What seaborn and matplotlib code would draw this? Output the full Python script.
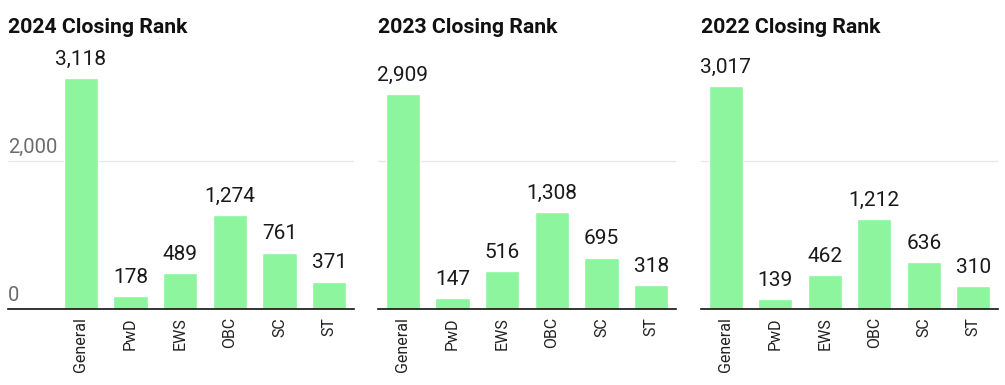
import matplotlib
matplotlib.use("Agg")
import matplotlib.pyplot as plt
import seaborn as sns
import pandas as pd

categories = ["General", "PwD", "EWS", "OBC", "SC", "ST"]
rank_2024 = [3118, 178, 489, 1274, 761, 371]
rank_2023 = [2909, 147, 516, 1308, 695, 318]
rank_2022 = [3017, 139, 462, 1212, 636, 310]
titles = ["2024 Closing Rank", "2023 Closing Rank", "2022 Closing Rank"]
y_ticks = [0, 2000]
y_tick_labels = ["0", "2,000"]

sns.set_theme(style="white")
plt.rcParams["font.family"] = ["Roboto", "DejaVu Sans"]

W, H = 1005, 385
fig = plt.figure(figsize=(W / 100, H / 100), dpi=100)

bar_color = "#8cf59d"
panels = [
    (rank_2024, titles[0], 8, 354, -1.47, True),
    (rank_2023, titles[1], 378, 676, -0.5, False),
    (rank_2022, titles[2], 701, 998, -0.5, False),
]
top_px, bot_px = 60, 309
ymax = (bot_px - top_px) / 0.074

for values, title, x0, x1, xmin, show_y in panels:
    ax = fig.add_axes([x0 / W, 1 - bot_px / H, (x1 - x0) / W, (bot_px - top_px) / H])
    df = pd.DataFrame({"cat": categories, "val": values})
    sns.barplot(data=df, x="cat", y="val", color=bar_color, saturation=1,
                width=0.69, ax=ax, order=categories)
    ax.set_xlim(xmin, 5.5)
    ax.set_ylim(0, ymax)
    ax.set_xlabel("")
    ax.set_ylabel("")
    for s in ["top", "right", "left"]:
        ax.spines[s].set_visible(False)
    ax.spines["bottom"].set_color("#111111")
    ax.spines["bottom"].set_linewidth(1.2)
    ax.set_yticks(y_ticks)
    ax.set_yticklabels([])
    ax.tick_params(axis="y", length=0)
    ax.yaxis.grid(True, color="#e6e6e6", linewidth=0.9)
    ax.set_axisbelow(True)
    ax.tick_params(axis="x", length=0, pad=6, labelsize=11.5, labelcolor="#222222")
    for lab in ax.get_xticklabels():
        lab.set_rotation(90)
        lab.set_va("top")
        lab.set_ha("center")
    for p, v in zip(ax.patches, values):
        cx = p.get_x() + p.get_width() / 2
        ax.annotate(f"{v:,}", (cx, p.get_height()), xytext=(0, 9.5),
                    textcoords="offset points", ha="center", va="baseline",
                    fontsize=15, color="#1a1a1a")
    if show_y:
        for t, lbl in zip(y_ticks, y_tick_labels):
            ax.annotate(lbl, (0, t), xycoords=ax.get_yaxis_transform(),
                        xytext=(0, 6), textcoords="offset points",
                        ha="left", va="baseline", fontsize=14.5, color="#6b6b6b")
    fig.text(x0 / W, 1 - 33 / H, title, ha="left", va="baseline",
             fontsize=15.3, fontweight="bold", color="#111111")

fig.savefig("out.png", dpi=100)
